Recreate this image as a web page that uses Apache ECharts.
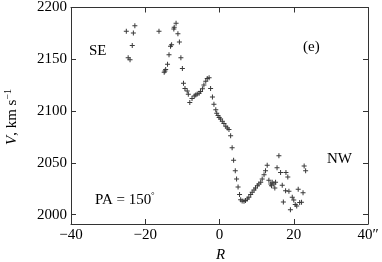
<!DOCTYPE html>
<html><head><meta charset="utf-8">
<script src="https://cdn.jsdelivr.net/npm/echarts@6/dist/echarts.min.js"></script>
<style>html,body{margin:0;padding:0;background:#fff}#c{width:382px;height:262px}</style>
</head><body><div id="c"></div>
<script>
const rOffsets = [-25.1,-22.8,-23.2,-23.5,-24.6,-24.1,-16.3,-11.7,-12.2,-12.3,
-11.2,-12.9,-13.2,-10.8,-13.6,-10.4,-14.0,-14.5,-14.9,-14.7,
-10.0,-9.7,-9.3,-8.7,-8.4,-7.4,-8.0,-6.8,-6.4,-6.0,
-5.5,-5.1,-4.6,-4.2,-3.7,-3.3,-2.8,-2.4,-1.9,-1.5,
-1.0,-0.75,-0.4,-0.1,0.3,0.75,1.2,1.7,2.1,2.55,
3.0,3.4,3.8,4.25,4.6,5.0,5.4,5.7,6.1,6.6,
7.0,7.5,7.9,8.4,8.8,9.3,9.7,10.2,10.6,11.1,
11.5,12.0,12.4,12.85,13.3,13.8,14.2,14.65,15.1,14.0,
14.9,16.0,15.5,16.45,17.9,18.4,16.9,17.8,18.7,17.2,
19.6,20.0,19.1,20.4,20.8,21.6,22.1,21.2,22.5,22.8,
23.2];
const velocities = [2177,2182.5,2175.4,2163.4,2151.6,2149.6,2177,2184.7,2180.9,2179.3,
2174.7,2164,2162.7,2166.6,2154.4,2151.5,2145.3,2140.1,2137.4,2138.6,
2141,2126.9,2121.9,2119.3,2116.2,2112.1,2108.3,2114.5,2115.6,2116.6,
2117.2,2118.8,2121.6,2125.2,2128.8,2131.5,2132.2,2121.9,2113.7,2106.6,
2101.3,2098,2095.8,2093.9,2092.3,2090.1,2087.9,2085.3,2083.7,2082.2,
2076.3,2064.6,2052.6,2042.3,2034.4,2026.8,2019.4,2014.3,2013.2,2013,
2013.7,2015.1,2016.8,2019.4,2021.6,2023.9,2025.8,2028,2029.6,2031.2,
2034.4,2038.5,2042.3,2047.8,2033.3,2029.6,2031.2,2029.6,2031.3,2028,
2025.8,2056.9,2045.2,2040.7,2040.7,2036.3,2028.3,2023.2,2022.6,2012.2,
2016.8,2014.1,2004.8,2009.8,2008.4,2011.8,2012,2024.5,2021.1,2047.1,
2042.5];
const xTicks = [-40,-20,0,20,40];
const yTicks = [2000,2050,2100,2150,2200];

const font = 'Liberation Serif, Times New Roman, serif';
const axisColor = '#333';
const chart = echarts.init(document.getElementById('c'), null, {renderer:'canvas'});
const pts = rOffsets.map((r,i)=>[r, velocities[i]]);
const plus = 'path://M2,0H3V2H5V3H3V5H2V3H0V2H2Z';

const xBase = {
  type:'value', min:-40, max:40, interval:20,
  axisLine:{show:true, onZero:false, lineStyle:{color:axisColor, width:1}},
  axisTick:{show:true, inside:true, length:5, lineStyle:{color:axisColor}},
  splitLine:{show:false}
};
const yBase = {
  type:'value', min:1991, max:2200,
  axisLine:{show:true, onZero:false, lineStyle:{color:axisColor, width:1}},
  axisTick:{show:true, inside:true, length:5, customValues:yTicks, lineStyle:{color:axisColor}},
  splitLine:{show:false}
};

chart.setOption({
  animation:false,
  grid:{left:71, right:14, top:5, bottom:38, containLabel:false},
  xAxis:[
    Object.assign({}, xBase, {position:'bottom',
      axisLabel:{show:true, margin:4, color:'#000', fontFamily:font, fontSize:15,
        formatter:v=> v===40 ? '40\u2033' : String(v).replace('-', '\u2212')}}),
    Object.assign({}, xBase, {position:'top', axisLabel:{show:false}})
  ],
  yAxis:[
    Object.assign({}, yBase, {position:'left',
      axisLabel:{show:true, margin:4, color:'#000', fontFamily:font, fontSize:15, customValues:yTicks,
        formatter:v=>String(v)}}),
    Object.assign({}, yBase, {position:'right', axisLabel:{show:false}})
  ],
  series:[{
    type:'scatter', xAxisIndex:0, yAxisIndex:0,
    data:pts, symbol:plus, symbolSize:5,
    itemStyle:{color:'#3a3a3a', opacity:1}
  }],
  graphic:[
    {type:'text', left:89, top:44, style:{text:'SE', font:'15px '+font, fill:'#000'}},
    {type:'text', left:303, top:40, style:{text:'(e)', font:'15px '+font, fill:'#000'}},
    {type:'text', left:327, top:152, style:{text:'NW', font:'15px '+font, fill:'#000'}},
    {type:'text', left:95, top:193, style:{text:'PA = 150', font:'15px '+font, fill:'#000'}},
    {type:'text', left:151, top:191, style:{text:'\u00b0', font:'9px '+font, fill:'#000'}},
    {type:'text', left:216, top:248, style:{text:'R', font:'italic 15px '+font, fill:'#000'}},
    {type:'text', x:3, y:145, rotation:Math.PI/2, style:{
      rich:{
        i:{fontFamily:font, fontStyle:'italic', fontSize:15, fill:'#000'},
        n:{fontFamily:font, fontSize:15, fill:'#000'},
        s:{fontFamily:font, fontSize:10, fill:'#000', verticalAlign:'top', padding:[0,0,8,0]}
      },
      text:'{i|V}{n|, km s}{s|\u22121}', fill:'#000'
    }}
  ]
});
</script></body></html>
